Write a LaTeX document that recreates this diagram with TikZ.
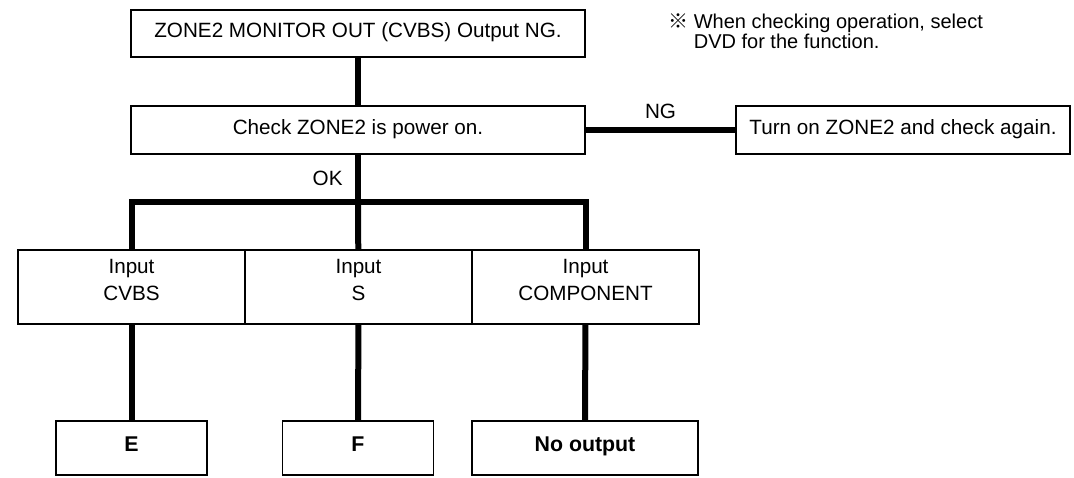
\documentclass[tikz,border=0pt]{standalone}
\usepackage{fontspec}
\setmainfont{Liberation Sans}
\newfontfamily\cjk{Noto Sans CJK JP}
\usetikzlibrary{positioning}
\tikzset{box/.style={draw,line width=1.4pt,outer sep=0pt,inner sep=2pt,align=center,
 text height=11.5pt,text depth=5pt,font=\fontsize{15.5}{18}\selectfont},
 flowbox/.style={box,minimum width=340.5pt,minimum height=36pt},
 inbox/.style={box,minimum width=170.25pt,minimum height=55.5pt},
 intext/.style={inner sep=0pt,align=center,font=\fontsize{15.5}{20}\selectfont},
 endbox/.style={box,minimum width=113.25pt,minimum height=40.5pt,text depth=6pt,
  font=\fontsize{16}{18}\selectfont\bfseries},
 link/.style={line width=4.5pt},
 lbl/.style={font=\fontsize{15.5}{18}\selectfont}}

\begin{document}
\begin{tikzpicture}[x=0.75pt,y=-0.75pt]
\fill[white] (0,0) rectangle (1074,478);
\useasboundingbox (0,0) rectangle (1074,478);
% main checks
\node[flowbox,minimum height=35.25pt] (start) at (358,33.5) {ZONE2 MONITOR OUT (CVBS) Output NG.};
\node[flowbox] (power) at (358,130) {Check ZONE2 is power on.};
\node[flowbox,minimum width=250.5pt,anchor=west] (again) at (736,130) {Turn on ZONE2 and check again.};
\node[anchor=north west,align=left,inner sep=0pt,font=\fontsize{15}{12.5}\selectfont] (note) at (668,13)
 {{\cjk ※} When checking operation, select\\\hphantom{{\cjk ※} }DVD for the function.};
% inputs
\node[inbox] (cvbs) at (131.5,287) {};
\node[inbox,right=0pt of cvbs] (svideo) {};
\node[inbox,right=0pt of svideo] (comp) {};
\node[intext,below=7pt of cvbs.north] (cvbstxt) {Input\\CVBS};
\node[intext,below=7pt of svideo.north] (svideotxt) {Input\\S};
\node[intext,below=7pt of comp.north] (comptxt) {Input\\COMPONENT};
% results
\node[endbox] (e) at (131.5,448) {E};
\node[endbox] (f) at (358,448) {F};
\node[endbox,minimum width=169.5pt] (noout) at (585,448) {No output};
\coordinate (split) at (358,202);
\draw[link] (start)--(power);
\draw[link] (power)--node[lbl,above=3pt]{NG}(again);
\draw[link] (power)--node[lbl,left=6pt]{OK}(split);
\draw[link] (cvbs) |- (comp.north |- split) -- (comp);
\draw[link] (split)--(svideo);
\draw[link] (cvbs)--(e);
\draw[link] (svideo)--(f);
\draw[link] (comp)--(noout);
\end{tikzpicture}
\end{document}
